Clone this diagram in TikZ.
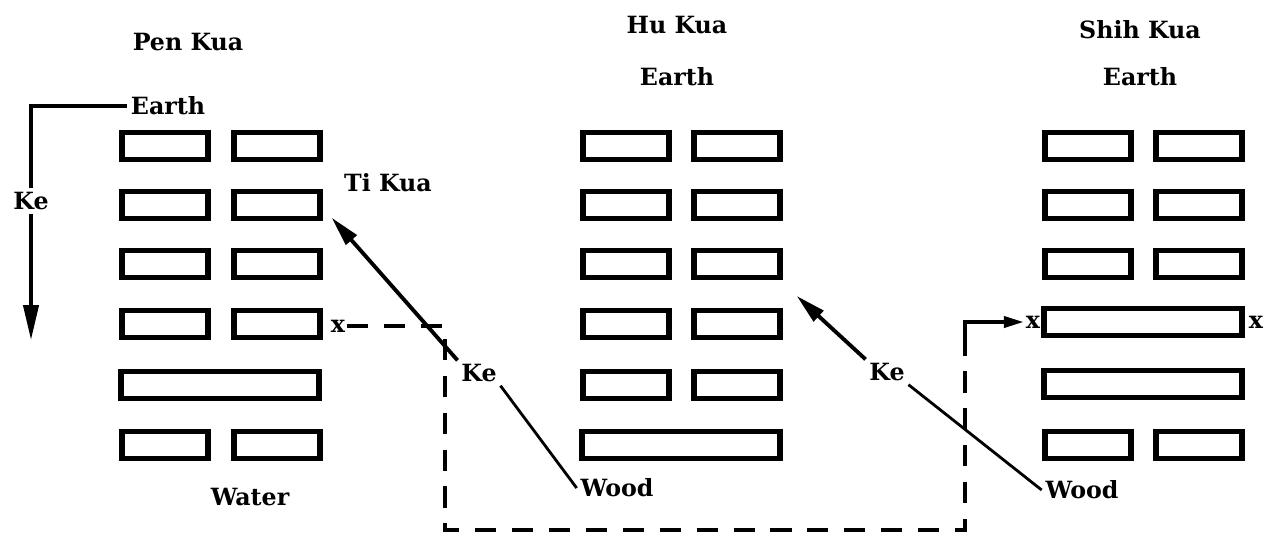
\documentclass[tikz,border=0pt]{standalone}
\usepackage{fontspec}
\setmainfont{DejaVu Serif}
\usepackage{xcolor}
\definecolor{cInk}{HTML}{000000}
\usepackage{tikz}
\usetikzlibrary{positioning,arrows.meta}
\tikzset{
  label-text/.style={font=\fontsize{13.5}{15}\selectfont\bfseries,inner sep=2pt},
  mark-x/.style={font=\fontsize{13.5}{15}\selectfont\bfseries,inner sep=1pt},
  half-bar/.style={draw=cInk,line width=3pt,minimum width=1.72cm,
    minimum height=0.54cm,inner sep=0pt},
  full-bar/.style={half-bar,minimum width=3.96cm},
  arrow/.style={-{Triangle[length=6mm,width=2.8mm]},line width=2.2pt,draw=cInk},
  arrow-small/.style={-{Triangle[length=4mm,width=2.2mm]},line width=2.2pt,draw=cInk},
  link/.style={line width=2.2pt,draw=cInk},
  link-thin/.style={line width=1.6pt,draw=cInk},
  link-dash/.style={line width=2.2pt,draw=cInk,dash pattern=on 12pt off 9pt},
}
\begin{document}
\begin{tikzpicture}[x=0.02cm,y=-0.02cm]
  \useasboundingbox (0,0) rectangle (1267,539);
  % Pen Kua
  \node[label-text] (pen-title) at (188,42) {Pen Kua};
  \node[label-text] (pen-earth) at (168,106) {Earth};
  \foreach \r/\y in {1/146,2/205,3/264,4/324,6/445} {
    \node[half-bar] (pen-l\r) at (165,\y) {};
    \node[half-bar] (pen-r\r) at (277,\y) {};
  }
  \node[full-bar] (pen-5) at (220,385) {};
  \node[label-text] (pen-water) at (250,497) {Water};
  \node[label-text] (ke-l) at (31,201) {Ke};
  \node[label-text] (ti-kua) at (388,183) {Ti Kua};
  \node[mark-x] (x-pen) at (338,326) {x};
  % Hu Kua
  \node[label-text] (hu-title) at (677,25) {Hu Kua};
  \node[label-text] (hu-earth) at (677,77) {Earth};
  \foreach \r/\y in {1/146,2/205,3/264,4/324,5/385} {
    \node[half-bar] (hu-l\r) at (626,\y) {};
    \node[half-bar] (hu-r\r) at (737,\y) {};
  }
  \node[full-bar] (hu-6) at (681,445) {};
  \node[label-text] (ke-m) at (479,373) {Ke};
  \node[label-text] (wood-m) at (617,488) {Wood};
  % Shih Kua
  \node[label-text] (shih-title) at (1140,30) {Shih Kua};
  \node[label-text] (shih-earth) at (1140,77) {Earth};
  \foreach \r/\y in {1/146,2/205,3/264,6/445} {
    \node[half-bar] (shih-l\r) at (1088,\y) {};
    \node[half-bar] (shih-r\r) at (1199,\y) {};
  }
  \node[full-bar] (shih-4) at (1143,322) {};
  \node[full-bar] (shih-5) at (1143,384) {};
  \node[mark-x] (x-shih-l) at (1033,322) {x};
  \node[mark-x] (x-shih-r) at (1256,322) {x};
  \node[label-text] (ke-r) at (887,372) {Ke};
  \node[label-text] (wood-r) at (1082,490) {Wood};
  % corners of the dashed route
  \coordinate (bend-a) at (445,326);
  \coordinate (bend-c) at (965,530);
  \coordinate (bend-d) at (965,345);
  % connectors
  \draw[link] (pen-earth.west) -| (ke-l.north);
  \draw[arrow,-{Triangle[length=7mm,width=3mm]}] (ke-l.south) -- (ke-l.south |- pen-l4.south);
  \draw[link-thin] (wood-m.west) -- (ke-m.south east);
  \draw[arrow] (ke-m.north west) -- ([shift={(9,-3.5)}]pen-r2.south east);
  \draw[link-dash] (x-pen.east) -- (bend-a) |- (bend-c) -- (bend-d);
  \draw[arrow-small] (bend-d) |- (x-shih-l.west);
  \draw[link-thin] (wood-r.west) -- (ke-r.south east);
  \draw[arrow] (ke-r.north west) -- ([shift={(14,-12)}]hu-r4.north east);
\end{tikzpicture}
\end{document}
